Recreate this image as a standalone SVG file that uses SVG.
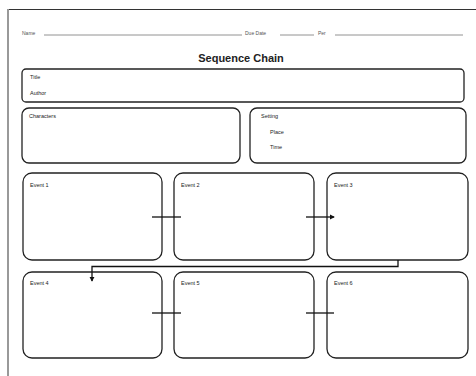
<svg xmlns="http://www.w3.org/2000/svg" width="476" height="376" viewBox="0 0 476 376">
<style>
.box{fill:#fff;stroke:#222;stroke-width:1.3}
.lbl{font-family:"Liberation Sans",Arial,sans-serif;font-size:5.5px;fill:#222}
.hd{font-family:"Liberation Sans",Arial,sans-serif;font-size:5px;fill:#555}
.ttl{font-family:"Liberation Sans",Arial,sans-serif;font-size:11px;font-weight:bold;fill:#222}
.ln{stroke:#777;stroke-width:0.8}
.con{fill:none;stroke:#111;stroke-width:1.3}
</style>
<defs>
<marker id="ah" viewBox="0 0 6 6" refX="5" refY="3" markerWidth="4" markerHeight="4" orient="auto">
<path d="M0,0 L6,3 L0,6 z" fill="#111"/>
</marker>
</defs>
<rect width="476" height="376" fill="#fff"/>
<line x1="7" y1="9.5" x2="476" y2="9.5" stroke="#333" stroke-width="1.2"/>
<line x1="8" y1="9" x2="8" y2="376" stroke="#999" stroke-width="2"/>
<g id="header">
<text class="hd" x="22" y="35">Name</text>
<line class="ln" x1="44" y1="35" x2="242" y2="35"/>
<text class="hd" x="245" y="35">Due Date</text>
<line class="ln" x1="280" y1="35" x2="314" y2="35"/>
<text class="hd" x="318" y="35">Per</text>
<line class="ln" x1="335" y1="35" x2="463" y2="35"/>
<text class="ttl" x="241" y="62" text-anchor="middle">Sequence Chain</text>
</g>
<g id="title-box">
<rect class="box" x="22" y="69" width="442" height="33" rx="4"/>
<text class="lbl" x="30" y="79">Title</text>
<text class="lbl" x="30" y="95">Author</text>
</g>
<g id="characters">
<rect class="box" x="22" y="108" width="218" height="55" rx="7"/>
<text class="lbl" x="29" y="118">Characters</text>
</g>
<g id="setting">
<rect class="box" x="250" y="108" width="216" height="55" rx="7"/>
<text class="lbl" x="261" y="118">Setting</text>
<text class="lbl" x="270" y="134">Place</text>
<text class="lbl" x="270" y="149">Time</text>
</g>
<g id="event1">
<rect class="box" x="23" y="173" width="139" height="87" rx="9"/>
<text class="lbl" x="30" y="187">Event 1</text>
</g>
<g id="event2">
<rect class="box" x="174" y="173" width="140" height="87" rx="9"/>
<text class="lbl" x="181" y="187">Event 2</text>
</g>
<g id="event3">
<rect class="box" x="327" y="173" width="141" height="87" rx="9"/>
<text class="lbl" x="334" y="187">Event 3</text>
</g>
<g id="event4">
<rect class="box" x="23" y="272" width="139" height="86" rx="9"/>
<text class="lbl" x="30" y="285">Event 4</text>
</g>
<g id="event5">
<rect class="box" x="174" y="272" width="140" height="86" rx="9"/>
<text class="lbl" x="181" y="285">Event 5</text>
</g>
<g id="event6">
<rect class="box" x="327" y="272" width="141" height="86" rx="9"/>
<text class="lbl" x="334" y="285">Event 6</text>
</g>
<g id="connectors">
<line class="con" x1="152" y1="217" x2="181" y2="217"/>
<line class="con" x1="306" y1="217" x2="334" y2="217" marker-end="url(#ah)"/>
<path class="con" d="M398 260 V266.5 H92 V281" marker-end="url(#ah)"/>
<line class="con" x1="152" y1="313" x2="181" y2="313"/>
<line class="con" x1="306" y1="313" x2="334" y2="313"/>
</g>
</svg>
